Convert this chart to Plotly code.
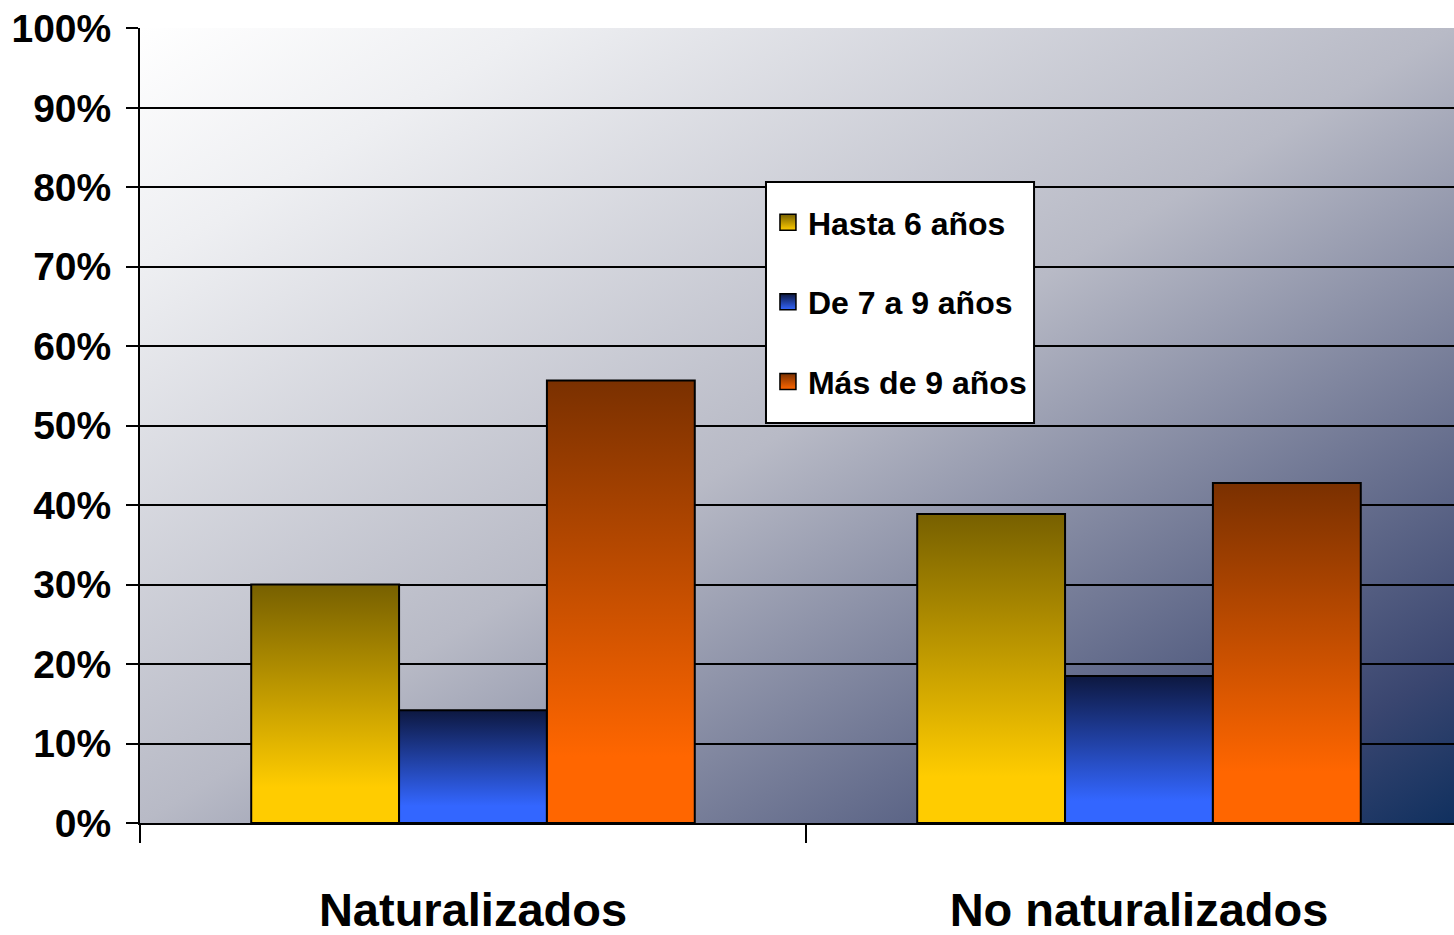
import base64
import plotly.graph_objects as go

categories = ["Naturalizados", "No naturalizados"]
series_names = ["Hasta 6 años", "De 7 a 9 años", "Más de 9 años"]
hasta_6 = [0.30, 0.389]
de_7_a_9 = [0.142, 0.185]
mas_de_9 = [0.557, 0.428]
y_ticks = [0, 0.1, 0.2, 0.3, 0.4, 0.5, 0.6, 0.7, 0.8, 0.9, 1.0]

series_values = [hasta_6, de_7_a_9, mas_de_9]
bright = ["#FFCC00", "#3366FF", "#FF6600"]
dark = ["#776000", "#0D1840", "#7A3000"]

FONT = "Liberation Sans, Arial, Helvetica, sans-serif"
W = 0.222  # bar width in axis units

fig = go.Figure()

for s, vals in enumerate(series_values):
    for gi, v in enumerate(vals):
        c = gi + (s - 1) * W
        x0, x1 = c - W / 2, c + W / 2
        fig.add_trace(go.Scatter(
            x=[x0, x0, x1, x1, x0], y=[0, v, v, 0, 0],
            mode="lines", fill="toself",
            line=dict(color="black", width=2),
            fillgradient=dict(type="vertical",
                              colorscale=[[0, bright[s]], [0.15, bright[s]], [1, dark[s]]]),
            showlegend=False, hoverinfo="skip",
        ))
    # legend entry
    fig.add_trace(go.Scatter(
        x=[None], y=[None], mode="markers", name=series_names[s],
        legendgroup=series_names[s],
        marker=dict(symbol="square", size=17, color=dark[s],
                    gradient=dict(type="vertical", color=bright[s]),
                    line=dict(color="black", width=1.5)),
    ))

stops = [(0, "#ffffff"), (0.15, "#eeeff2"), (0.5, "#b8bac6"), (0.72, "#737a96"),
         (0.9, "#3a4670"), (1, "#10305f")]
stop_xml = "".join(f'<stop offset="{o}" stop-color="{col}"/>' for o, col in stops)
svg = ('<svg xmlns="http://www.w3.org/2000/svg" width="1314" height="795" viewBox="0 0 100 100" '
       'preserveAspectRatio="none"><defs><linearGradient id="g" x1="0" y1="0" x2="1" y2="1">'
       + stop_xml + '</linearGradient></defs><rect width="100" height="100" fill="url(#g)"/></svg>')
src = "data:image/svg+xml;base64," + base64.b64encode(svg.encode()).decode()

fig.update_layout(
    width=1454, height=935,
    margin=dict(l=140, r=0, t=28, b=112),
    paper_bgcolor="white", plot_bgcolor="white",
    font=dict(family=FONT, color="black", weight="bold"),
    images=[dict(source=src, xref="paper", yref="paper", x=0, y=1, sizex=1, sizey=1,
                 sizing="stretch", layer="below", xanchor="left", yanchor="top")],
    shapes=[dict(type="rect", xref="paper", yref="paper",
                 x0=0.4764, x1=0.6804, y0=0.5031, y1=0.8063,
                 fillcolor="white", line=dict(color="black", width=2), layer="above")],
    legend=dict(x=0.4779, y=0.79, xanchor="left", yanchor="top",
                bgcolor="rgba(0,0,0,0)", borderwidth=0,
                font=dict(family=FONT, size=32, color="black", weight="bold"),
                traceorder="grouped", tracegroupgap=35, itemwidth=30),
    xaxis=dict(range=[-0.5, 1.473], tickvals=[0, 1], ticktext=categories,
               ticks="", showgrid=False, zeroline=False, automargin=False,
               showline=True, linecolor="black", linewidth=2,
               tickfont=dict(family=FONT, size=47, color="black", weight="bold"),
               ticklabelstandoff=45,
               minor=dict(tickmode="array", tickvals=[-0.5, 0.5, 1.5], ticks="outside",
                          ticklen=18, tickwidth=2, tickcolor="black", showgrid=False)),
    yaxis=dict(range=[0, 1.0005], tickvals=y_ticks, tickformat=".0%",
               showgrid=True, gridcolor="black", gridwidth=2, zeroline=False,
               automargin=False,
               showline=True, linecolor="black", linewidth=2,
               ticks="outside", ticklen=12, tickwidth=2, tickcolor="black",
               tickfont=dict(family=FONT, size=39, color="black", weight="bold"),
               ticklabelstandoff=7),
)

fig.write_html(
    "out.html",
    config={"displayModeBar": False},
    post_script="document.body.style.margin='0';document.body.style.overflow='hidden';",
)
